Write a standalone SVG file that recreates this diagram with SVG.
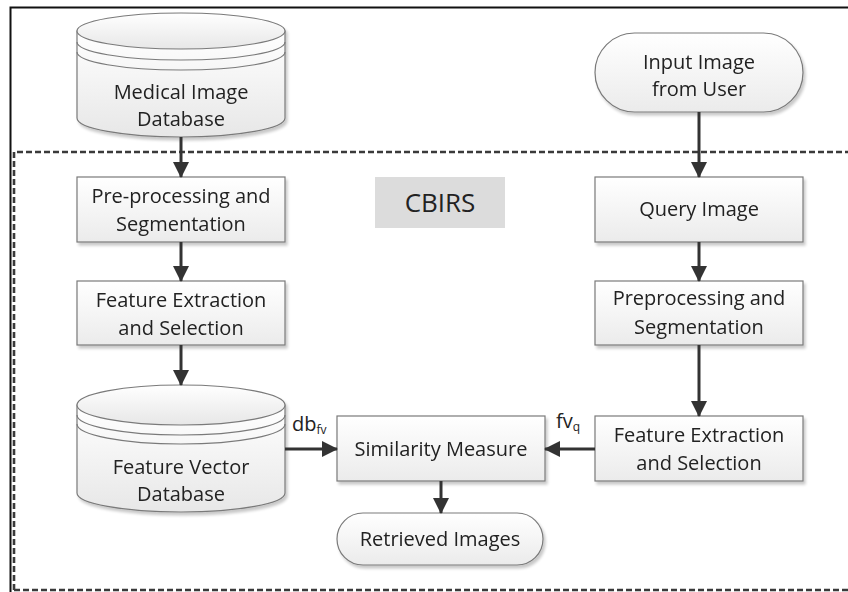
<svg xmlns="http://www.w3.org/2000/svg" width="848" height="592" viewBox="0 0 848 592">
  <defs>
    <linearGradient id="boxFill" x1="0" y1="0" x2="0" y2="1">
      <stop offset="0" stop-color="#ffffff"/>
      <stop offset="1" stop-color="#ebebeb"/>
    </linearGradient>
    <linearGradient id="cylFill" x1="0" y1="0" x2="0" y2="1">
      <stop offset="0" stop-color="#ffffff"/>
      <stop offset="1" stop-color="#e7e7e7"/>
    </linearGradient>
    <filter id="shadow" x="-10%" y="-10%" width="130%" height="140%">
      <feGaussianBlur in="SourceAlpha" stdDeviation="1.5"/>
      <feOffset dx="2" dy="3" result="b"/>
      <feComponentTransfer><feFuncA type="linear" slope="0.22"/></feComponentTransfer>
      <feMerge><feMergeNode/><feMergeNode in="SourceGraphic"/></feMerge>
    </filter>
    <marker id="arrow" viewBox="0 0 16 16" refX="15" refY="8" markerWidth="16" markerHeight="16" markerUnits="userSpaceOnUse" orient="auto">
      <path d="M0,0 L16,8 L0,16 Z" fill="#333333"/>
    </marker>
  </defs>
  <style>
    .box { fill: url(#boxFill); stroke: #7a7a7a; stroke-width: 1.2; }
    .cyl { fill: url(#cylFill); stroke: #7a7a7a; stroke-width: 1.2; }
    .ring { fill: none; stroke: #7a7a7a; stroke-width: 1.2; }
    .lbl { font-family: "Open Sans", "Liberation Sans", sans-serif; font-size: 20px; fill: #222222; text-anchor: middle; }
    .sub { font-family: "Open Sans", "Liberation Sans", sans-serif; fill: #222222; }
    .edge { fill: none; stroke: #333333; stroke-width: 3; marker-end: url(#arrow); }
  </style>

  <rect width="848" height="592" fill="#ffffff"/>

  <!-- frames -->
  <g id="frames">
    <path d="M10.5,600 L10.5,7.5 L860,7.5" fill="none" stroke="#111111" stroke-width="2"/>
    <path d="M14,590 L14,152 L860,152 M14,590 L860,590" fill="none" stroke="#3a3a3a" stroke-width="2.6" stroke-dasharray="6 3"/>
  </g>

  <!-- Medical Image Database -->
  <g id="medical-db" filter="url(#shadow)">
    <path class="cyl" d="M77,31 L77,118 A104,19 0 0 0 285,118 L285,31 Z"/>
    <ellipse class="cyl" cx="181" cy="31" rx="104" ry="18"/>
    <path class="ring" d="M77,42 A104,18 0 0 0 285,42"/>
    <path class="ring" d="M77,52 A104,18 0 0 0 285,52"/>
    <text class="lbl" x="181" y="99">Medical Image</text>
    <text class="lbl" x="181" y="126">Database</text>
  </g>

  <!-- Input Image from User -->
  <g id="input-image" filter="url(#shadow)">
    <rect class="box" x="595" y="33" width="208" height="79" rx="39.5"/>
    <text class="lbl" x="699" y="69">Input Image</text>
    <text class="lbl" x="699" y="96">from User</text>
  </g>

  <!-- CBIRS label -->
  <g id="cbirs">
    <rect x="375" y="177" width="130" height="51" fill="#dcdcdc"/>
    <text class="lbl" x="440" y="212" style="font-size:26px">CBIRS</text>
  </g>

  <!-- Pre-processing and Segmentation -->
  <g id="preproc-left" filter="url(#shadow)">
    <rect class="box" x="77" y="177" width="208" height="65"/>
    <text class="lbl" x="181" y="203">Pre-processing and</text>
    <text class="lbl" x="181" y="231">Segmentation</text>
  </g>

  <!-- Feature Extraction and Selection (database side) -->
  <g id="feature-left" filter="url(#shadow)">
    <rect class="box" x="77" y="281" width="208" height="64"/>
    <text class="lbl" x="181" y="307">Feature Extraction</text>
    <text class="lbl" x="181" y="335">and Selection</text>
  </g>

  <!-- Feature Vector Database -->
  <g id="feature-db" filter="url(#shadow)">
    <path class="cyl" d="M77,405 L77,493 A104,19 0 0 0 285,493 L285,405 Z"/>
    <ellipse class="cyl" cx="181" cy="405" rx="104" ry="20"/>
    <path class="ring" d="M77,415 A104,20 0 0 0 285,415"/>
    <path class="ring" d="M77,424 A104,20 0 0 0 285,424"/>
    <text class="lbl" x="181" y="474">Feature Vector</text>
    <text class="lbl" x="181" y="501">Database</text>
  </g>

  <!-- Query Image -->
  <g id="query-image" filter="url(#shadow)">
    <rect class="box" x="595" y="177" width="208" height="65"/>
    <text class="lbl" x="699" y="216">Query Image</text>
  </g>

  <!-- Preprocessing and Segmentation (query side) -->
  <g id="preproc-right" filter="url(#shadow)">
    <rect class="box" x="595" y="281" width="208" height="64"/>
    <text class="lbl" x="699" y="305">Preprocessing and</text>
    <text class="lbl" x="699" y="334">Segmentation</text>
  </g>

  <!-- Feature Extraction and Selection (query side) -->
  <g id="feature-right" filter="url(#shadow)">
    <rect class="box" x="595" y="416" width="208" height="65"/>
    <text class="lbl" x="699" y="442">Feature Extraction</text>
    <text class="lbl" x="699" y="470">and Selection</text>
  </g>

  <!-- Similarity Measure -->
  <g id="similarity" filter="url(#shadow)">
    <rect class="box" x="337" y="416" width="208" height="65"/>
    <text class="lbl" x="441" y="456">Similarity Measure</text>
  </g>

  <!-- Retrieved Images -->
  <g id="retrieved" filter="url(#shadow)">
    <rect class="box" x="337" y="513" width="206" height="52" rx="26"/>
    <text class="lbl" x="440" y="546">Retrieved Images</text>
  </g>

  <!-- connectors -->
  <g id="connectors">
    <line class="edge" x1="181" y1="137" x2="181" y2="177"/>
    <line class="edge" x1="181" y1="242" x2="181" y2="281"/>
    <line class="edge" x1="181" y1="345" x2="181" y2="385"/>
    <line class="edge" x1="699" y1="112" x2="699" y2="177"/>
    <line class="edge" x1="699" y1="242" x2="699" y2="281"/>
    <line class="edge" x1="699" y1="345" x2="699" y2="416"/>
    <line class="edge" x1="285" y1="449" x2="337" y2="449"/>
    <line class="edge" x1="595" y1="449" x2="545" y2="449"/>
    <line class="edge" x1="441" y1="481" x2="441" y2="513"/>
  </g>

  <!-- connector labels -->
  <g id="edge-labels">
    <text class="sub" x="292" y="431" font-size="20">db<tspan font-size="12" dy="3">fv</tspan></text>
    <text class="sub" x="556" y="428" font-size="20">fv<tspan font-size="12" dy="3">q</tspan></text>
  </g>
</svg>
